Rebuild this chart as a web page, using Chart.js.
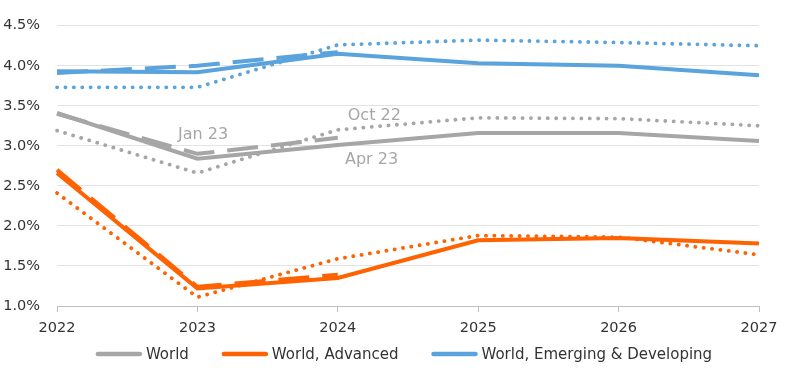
<!DOCTYPE html>
<html><head><meta charset="utf-8">
<script src="https://cdn.jsdelivr.net/npm/chart.js@4"></script>
<style>html,body{margin:0;padding:0;background:#fff;}#wrap{width:800px;height:368px;}</style>
</head><body><div id="wrap"><canvas id="c" width="800" height="368"></canvas></div>
<script>
const years = ['2022','2023','2024','2025','2026','2027'];
const yTicks = [1.0,1.5,2.0,2.5,3.0,3.5,4.0,4.5];

const worldApr23 = [3.41, 2.84, 3.01, 3.16, 3.16, 3.06];
const worldJan23 = [3.40, 2.90, 3.10, null, null, null];
const worldOct22 = [3.19, 2.66, 3.20, 3.35, 3.34, 3.25];

const advApr23 = [2.66, 1.22, 1.35, 1.82, 1.85, 1.78];
const advJan23 = [2.70, 1.24, 1.39, null, null, null];
const advOct22 = [2.41, 1.11, 1.59, 1.88, 1.86, 1.64];

const emApr23 = [3.93, 3.92, 4.15, 4.03, 4.00, 3.88];
const emJan23 = [3.91, 4.00, 4.17, null, null, null];
const emOct22 = [3.73, 3.73, 4.26, 4.32, 4.29, 4.25];

const legendLabels = ['World', 'World, Advanced', 'World, Emerging & Developing'];

const labelNotes = [
  {text:'Oct 22', x:2.26, y:3.37},
  {text:'Jan 23', x:1.04, y:3.14},
  {text:'Apr 23', x:2.24, y:2.83}
];

const GREY='#a6a6a6', ORANGE='#ff6200', BLUE='#5aa3dc';
const FONT = '"DejaVu Sans"';

function solid(label,data,color){return {label,data,borderColor:color,backgroundColor:color,borderWidth:4,pointRadius:0,tension:0};}
function dashed(label,data,color){return {label,data,borderColor:color,backgroundColor:color,borderWidth:4,borderDash:[31,13],pointRadius:0,tension:0};}
function dotted(label,data,color){return {label,data,borderColor:color,backgroundColor:color,borderWidth:3.8,borderDash:[0.1,8.3],borderCapStyle:'round',pointRadius:0,tension:0};}

const notesPlugin = {
  id:'notes',
  afterDatasetsDraw(chart){
    const {ctx, scales:{x,y}} = chart;
    ctx.save();
    ctx.font = '16px '+FONT;
    ctx.fillStyle = '#a6a6a6';
    ctx.textAlign='center'; ctx.textBaseline='middle';
    labelNotes.forEach(n=>{
      const px = x.getPixelForValue(0) + (x.getPixelForValue(1)-x.getPixelForValue(0))*n.x;
      ctx.fillText(n.text, px, y.getPixelForValue(n.y));
    });
    ctx.restore();
  }
};

const legendPlugin = {
  id:'customLegend',
  afterDraw(chart){
    const ctx = chart.ctx;
    ctx.save();
    ctx.font = '15px '+FONT;
    const lineW = 46, gapText = 4, gapItem = 33;
    const items = legendLabels.map((t,i)=>({t, color: chart.data.datasets[i].borderColor, w: ctx.measureText(t).width}));
    const total = items.reduce((s,it)=>s+lineW+gapText+it.w,0) + gapItem*(items.length-1);
    let x0 = chart.width/2 + 4 - total/2;
    const yc = 354;
    items.forEach(it=>{
      ctx.strokeStyle = it.color; ctx.lineWidth = 4.5; ctx.lineCap='round';
      ctx.beginPath(); ctx.moveTo(x0+2, yc); ctx.lineTo(x0+lineW-2, yc); ctx.stroke();
      ctx.fillStyle = '#333'; ctx.textBaseline='middle'; ctx.textAlign='left';
      ctx.fillText(it.t, x0+lineW+gapText, yc+1);
      x0 += lineW + gapText + it.w + gapItem;
    });
    ctx.restore();
  }
};

new Chart(document.getElementById('c'),{
  type:'line',
  data:{labels:years,datasets:[
    solid('World',worldApr23,GREY),
    solid('World, Advanced',advApr23,ORANGE),
    solid('World, Emerging & Developing',emApr23,BLUE),
    dashed('World Jan 23',worldJan23,GREY),
    dashed('Advanced Jan 23',advJan23,ORANGE),
    dashed('Emerging Jan 23',emJan23,BLUE),
    dotted('World Oct 22',worldOct22,GREY),
    dotted('Advanced Oct 22',advOct22,ORANGE),
    dotted('Emerging Oct 22',emOct22,BLUE)
  ]},
  options:{
    responsive:false,animation:false,
    layout:{padding:{left:0,right:41,top:16,bottom:0}},
    plugins:{legend:{display:false},tooltip:{enabled:false}},
    scales:{
      x:{grid:{display:true,drawOnChartArea:false,drawTicks:true,tickLength:6,color:'#bfbfbf'},
        border:{display:true,color:'#bfbfbf',width:1},
        ticks:{color:'#333',font:{family:'DejaVu Sans',size:14.5},padding:8,maxRotation:0},
        afterFit(s){s.height=62;}
      },
      y:{min:1.0,max:4.5,
        afterBuildTicks(s){s.ticks=yTicks.map(v=>({value:v}));},
        afterFit(s){s.width=57;},
        grid:{color:'#e3e3e3',drawTicks:false},
        border:{display:false},
        ticks:{color:'#333',font:{family:'DejaVu Sans',size:14.5},padding:17,callback:v=>v.toFixed(1)+'%'}
      }
    }
  },
  plugins:[notesPlugin,legendPlugin]
});
</script></body></html>
